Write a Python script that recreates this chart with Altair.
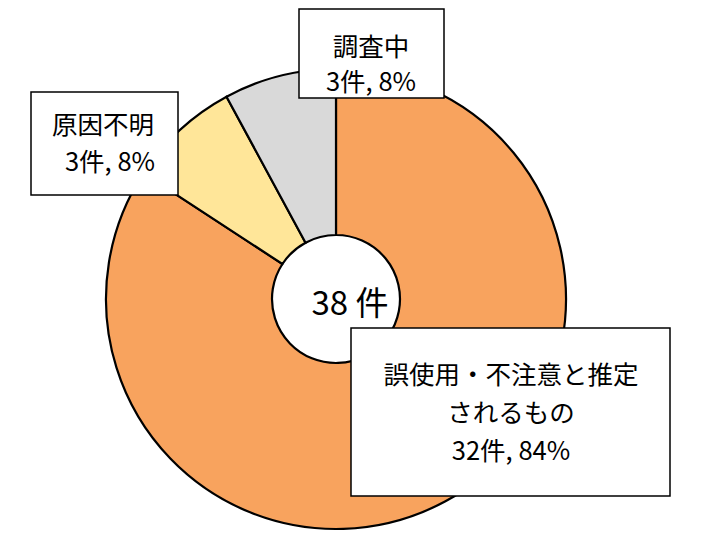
import altair as alt
import pandas as pd

# ---- data ----
categories = ["誤使用・不注意と推定されるもの", "原因不明", "調査中"]
label_lines = [["誤使用・不注意と推定", "されるもの"], ["原因不明"], ["調査中"]]
counts = [32, 3, 3]
colors = ["#F8A35E", "#FFE699", "#D9D9D9"]
unit = "件"

FONT = "Noto Sans CJK JP"
total = sum(counts)
pcts = [round(c * 100 / total) for c in counts]
count_text = [f"{c}{unit}, {p}%" for c, p in zip(counts, pcts)]

df = pd.DataFrame({"category": categories, "count": counts, "order": list(range(len(counts)))})


def px(v):
    return v - 8


arc = alt.Chart(df).mark_arc(
    outerRadius=230, innerRadius=64, stroke="black", strokeWidth=2.2
).encode(
    theta=alt.Theta("count:Q", stack=True),
    order=alt.Order("order:Q"),
    color=alt.Color("category:N", scale=alt.Scale(domain=categories, range=colors), legend=None),
    x=alt.value(px(336)),
    y=alt.value(px(299)),
)


def one(text):
    return alt.Chart(pd.DataFrame({"t": [text]}))


def box(x1, y1, x2, y2):
    return one("").mark_rect(fill="white", stroke="black", strokeWidth=1.5).encode(
        x=alt.value(px(x1)), x2=alt.value(px(x2)), y=alt.value(px(y1)), y2=alt.value(px(y2))
    )


def txt(text, x, y, size=25.5):
    return one(text).mark_text(font=FONT, fontSize=size, color="black",
                               baseline="middle", align="center").encode(
        text="t:N", x=alt.value(px(x)), y=alt.value(px(y))
    )


layers = [arc]
layers.append(txt(f"{total} {unit}", 350, 305, 33))

# 調査中
layers += [box(299, 9, 444, 98), txt(label_lines[2][0], 371, 48), txt(count_text[2], 371, 83)]
# 原因不明
layers += [box(31, 92, 178, 195), txt(label_lines[1][0], 103, 126), txt(count_text[1], 110, 163)]
# 誤使用
layers += [
    box(351, 328, 670, 496),
    txt(label_lines[0][0], 511, 376),
    txt(label_lines[0][1], 511, 414),
    txt(count_text[0], 511, 452),
]

chart = alt.layer(*layers).properties(
    width=692, height=533, autosize=alt.AutoSizeParams(type="none"), padding=0
).configure_view(stroke=None)

chart.save("out.html", embed_options={"renderer": "svg", "actions": False})
